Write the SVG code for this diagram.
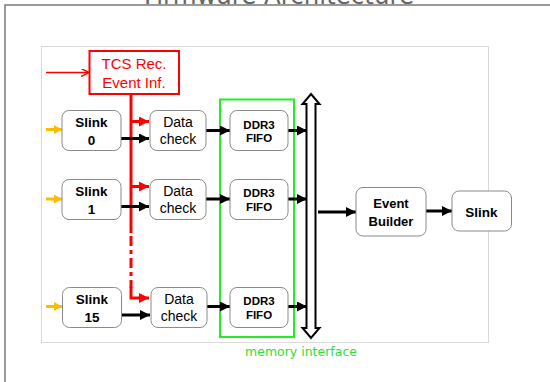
<svg xmlns="http://www.w3.org/2000/svg" width="550" height="382" viewBox="0 0 550 382">
  <style>
    .box { fill: #ffffff; stroke: #8a8a8a; stroke-width: 1; }
    .lbl { font-family: "Liberation Sans", Arial, sans-serif; fill: #000000; text-anchor: middle; }
    .b { font-weight: bold; }
    .blk { stroke: #000000; stroke-width: 3; fill: none; }
    .red { stroke: #ff0000; stroke-width: 3; fill: none; }
    .yel { stroke: #ffbb00; stroke-width: 3; fill: none; }
  </style>
  <defs>
    <marker id="ah-black" markerUnits="userSpaceOnUse" markerWidth="10" markerHeight="10" refX="10" refY="5" orient="auto">
      <path d="M0,0 L10,5 L0,10 z" fill="#000000"/>
    </marker>
    <marker id="ah-red" markerUnits="userSpaceOnUse" markerWidth="10" markerHeight="10" refX="10" refY="5" orient="auto">
      <path d="M0,0 L10,5 L0,10 z" fill="#ff0000"/>
    </marker>
    <marker id="ah-red-thin" markerUnits="userSpaceOnUse" markerWidth="9" markerHeight="8" refX="8" refY="4" orient="auto">
      <path d="M0,0 L8,4 L0,8" fill="none" stroke="#ff0000" stroke-width="1.5"/>
    </marker>
    <marker id="ah-yel" markerUnits="userSpaceOnUse" markerWidth="8" markerHeight="9" refX="8" refY="4.5" orient="auto">
      <path d="M0,0 L8,4.5 L0,9 z" fill="#ffbb00"/>
    </marker>
  </defs>

  <rect width="550" height="382" fill="#ffffff"/>

  <!-- page frame and title -->
  <path d="M5,382 L5,5 L550,5" fill="none" stroke="#7a7a7a" stroke-width="1.5"/>
  <text x="279" y="3.5" font-family="'DejaVu Sans', sans-serif" font-size="24.5" fill="#666666" text-anchor="middle">Firmware Architecture</text>

  <!-- drawing panel -->
  <rect x="41.5" y="46.5" width="447" height="296" fill="#ffffff" stroke="#d9d9d9" stroke-width="1"/>

  <!-- memory interface region -->
  <g id="memory-interface">
    <rect x="220" y="99.5" width="74" height="237.5" fill="none" stroke="#22ee22" stroke-width="2"/>
    <text x="301" y="355.5" font-family="'DejaVu Sans', sans-serif" font-size="12.5" fill="#33dd33" text-anchor="middle">memory interface</text>
  </g>

  <!-- connectors -->
  <g id="connectors">
    <!-- link inputs -->
    <line class="yel" x1="46" y1="129.5" x2="62" y2="129.5" marker-end="url(#ah-yel)"/>
    <line class="yel" x1="46" y1="199" x2="62" y2="199" marker-end="url(#ah-yel)"/>
    <line class="yel" x1="46" y1="306.5" x2="62" y2="306.5" marker-end="url(#ah-yel)"/>

    <!-- TCS input -->
    <line x1="46" y1="72.5" x2="89" y2="72.5" stroke="#ff0000" stroke-width="1.5" marker-end="url(#ah-red-thin)"/>

    <!-- TCS distribution line -->
    <line class="red" x1="131" y1="95" x2="131" y2="233"/>
    <path class="red" d="M131,236 L131,288" stroke-dasharray="10,4,4,4"/>
    <path class="red" d="M131,287 L131,298 L149,298" marker-end="url(#ah-red)"/>
    <path class="red" d="M131,121.5 L149,121.5" marker-end="url(#ah-red)"/>
    <path class="red" d="M131,186.5 L149,186.5" marker-end="url(#ah-red)"/>

    <!-- Slink to Data check -->
    <line class="blk" x1="121" y1="138.5" x2="149" y2="138.5" marker-end="url(#ah-black)"/>
    <line class="blk" x1="121" y1="206.5" x2="149" y2="206.5" marker-end="url(#ah-black)"/>
    <line class="blk" x1="122" y1="315" x2="150" y2="315" marker-end="url(#ah-black)"/>

    <!-- Data check to DDR3 FIFO -->
    <line class="blk" x1="206" y1="130.5" x2="230" y2="130.5" marker-end="url(#ah-black)"/>
    <line class="blk" x1="206" y1="199" x2="230" y2="199" marker-end="url(#ah-black)"/>
    <line class="blk" x1="207" y1="306.5" x2="230" y2="306.5" marker-end="url(#ah-black)"/>

    <!-- DDR3 FIFO to bus -->
    <line class="blk" x1="288" y1="130.5" x2="307" y2="130.5" marker-end="url(#ah-black)"/>
    <line class="blk" x1="288" y1="199" x2="307" y2="199" marker-end="url(#ah-black)"/>
    <line class="blk" x1="288" y1="306.5" x2="307" y2="306.5" marker-end="url(#ah-black)"/>

    <!-- bus -->
    <polygon points="311,94 319.5,104 315.5,104 315.5,328 319.5,328 311,338 302.5,328 306.5,328 306.5,104 302.5,104" fill="#ffffff" stroke="#000000" stroke-width="2"/>

    <!-- bus to Event Builder -->
    <line class="blk" x1="318" y1="212" x2="356" y2="212" marker-end="url(#ah-black)"/>

    <!-- Event Builder to output Slink -->
    <line class="blk" x1="426" y1="211" x2="452" y2="211" marker-end="url(#ah-black)"/>
  </g>

  <!-- TCS -->
  <g id="tcs">
    <rect x="89.5" y="51" width="89.5" height="43" fill="#ffffff" stroke="#ff0000" stroke-width="2"/>
    <text class="lbl" x="134" y="69" font-size="15" style="fill:#ff0000">TCS Rec.</text>
    <text class="lbl" x="134" y="88" font-size="15" style="fill:#ff0000">Event Inf.</text>
  </g>

  <!-- input links -->
  <g id="slink-0">
    <rect class="box" x="62" y="110.5" width="59" height="40" rx="7"/>
    <text class="lbl b" x="91.5" y="126.5" font-size="13.5">Slink</text>
    <text class="lbl b" x="91.5" y="145" font-size="13.5">0</text>
  </g>
  <g id="slink-1">
    <rect class="box" x="62" y="179.5" width="59" height="40" rx="7"/>
    <text class="lbl b" x="91.5" y="195.5" font-size="13.5">Slink</text>
    <text class="lbl b" x="91.5" y="214" font-size="13.5">1</text>
  </g>
  <g id="slink-15">
    <rect class="box" x="62.5" y="287.5" width="59" height="40" rx="7"/>
    <text class="lbl b" x="92" y="303.5" font-size="13.5">Slink</text>
    <text class="lbl b" x="92" y="322" font-size="13.5">15</text>
  </g>

  <!-- data checks -->
  <g id="check-0">
    <rect class="box" x="150" y="110.5" width="56" height="40" rx="7"/>
    <text class="lbl" x="178" y="126.5" font-size="14">Data</text>
    <text class="lbl" x="178" y="144" font-size="14">check</text>
  </g>
  <g id="check-1">
    <rect class="box" x="150" y="179.5" width="56" height="40" rx="7"/>
    <text class="lbl" x="178" y="195.5" font-size="14">Data</text>
    <text class="lbl" x="178" y="213" font-size="14">check</text>
  </g>
  <g id="check-15">
    <rect class="box" x="151" y="287.5" width="56" height="40" rx="7"/>
    <text class="lbl" x="179" y="303.5" font-size="14">Data</text>
    <text class="lbl" x="179" y="321" font-size="14">check</text>
  </g>

  <!-- DDR3 FIFOs -->
  <g id="fifo-0">
    <rect class="box" x="230" y="110.5" width="58" height="40" rx="7"/>
    <text class="lbl b" x="259" y="128.5" font-size="11.5">DDR3</text>
    <text class="lbl b" x="259" y="142" font-size="11.5">FIFO</text>
  </g>
  <g id="fifo-1">
    <rect class="box" x="230" y="179.5" width="58" height="40" rx="7"/>
    <text class="lbl b" x="259" y="197" font-size="11.5">DDR3</text>
    <text class="lbl b" x="259" y="210.5" font-size="11.5">FIFO</text>
  </g>
  <g id="fifo-15">
    <rect class="box" x="230" y="287.5" width="58" height="40" rx="7"/>
    <text class="lbl b" x="259" y="305" font-size="11.5">DDR3</text>
    <text class="lbl b" x="259" y="318.5" font-size="11.5">FIFO</text>
  </g>

  <!-- Event Builder -->
  <g id="event-builder">
    <rect class="box" x="356" y="187.5" width="70" height="48.5" rx="7"/>
    <text class="lbl b" x="391" y="208" font-size="13">Event</text>
    <text class="lbl b" x="391" y="225.5" font-size="13">Builder</text>
  </g>

  <!-- output link -->
  <g id="slink-out">
    <rect class="box" x="452" y="191" width="59.5" height="40" rx="7"/>
    <text class="lbl b" x="481.5" y="216.5" font-size="13.5">Slink</text>
  </g>
</svg>
